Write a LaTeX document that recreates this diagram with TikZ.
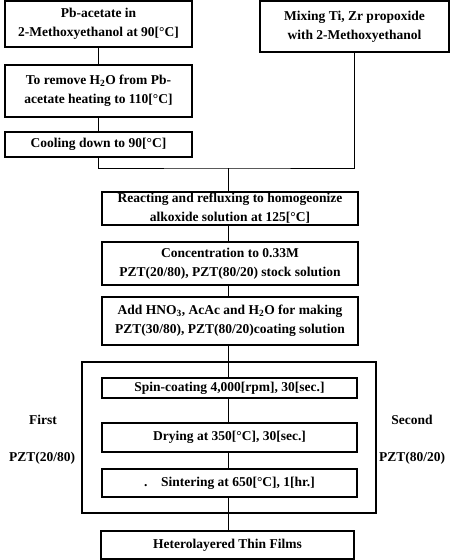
\documentclass[tikz,border=0pt]{standalone}
\usepackage{fontspec}
\setmainfont{Liberation Serif}
\begin{document}
\begin{tikzpicture}[x=1pt,y=-1pt,
  box/.style={draw,line width=1.3pt,rectangle,inner sep=0pt,align=center,
    font=\fontsize{13.5}{19}\selectfont\bfseries},
  lbl/.style={inner sep=0pt,font=\fontsize{13.5}{14}\selectfont\bfseries},
  conn/.style={line width=1pt}]
\useasboundingbox (0,0) rectangle (452,560);
\node[box,minimum width=187pt,minimum height=46pt] (A) at (98.5,24) {Pb-acetate in\\2-Methoxyethanol at 90[°C]};
\node[box,minimum width=189pt,minimum height=51pt] (M) at (354.5,26.5) {Mixing Ti, Zr propoxide\\with 2-Methoxyethanol};
\node[box,minimum width=187pt,minimum height=52pt] (B) at (98.5,91) {To remove H\textsubscript{2}O from Pb-\\acetate heating to 110[°C]};
\node[box,minimum width=187pt,minimum height=25pt] (C) at (98.5,144.5) {Cooling down to 90[°C]};
\node[box,minimum width=256pt,minimum height=33pt] (D) at (230,208.5) {Reacting and refluxing to homogeonize\\alkoxide solution at 125[°C]};
\node[box,minimum width=256pt,minimum height=43pt] (E) at (230,263.5) {Concentration to 0.33M\\PZT(20/80), PZT(80/20) stock solution};
\node[box,minimum width=256pt,minimum height=48pt] (F) at (230,321) {Add HNO\textsubscript{3}, AcAc and H\textsubscript{2}O for making\\PZT(30/80), PZT(80/20)coating solution};
\node[draw,line width=1.1pt,minimum width=294pt,minimum height=151pt,inner sep=0pt] (O) at (229,437.5) {};
\node[box,minimum width=255pt,minimum height=20pt] (S) at (229.5,388) {Spin-coating 4,000[rpm], 30[sec.]};
\node[box,minimum width=255pt,minimum height=29pt] (Dr) at (229.5,437.5) {Drying at 350[°C], 30[sec.]};
\node[box,minimum width=255pt,minimum height=28pt] (Si) at (229.5,483) {.\quad Sintering at 650[°C], 1[hr.]};
\node[box,minimum width=253pt,minimum height=28pt] (H) at (227.5,545) {Heterolayered Thin Films};
\node[lbl] (L1) at (43,420) {First};
\node[lbl] (L2) at (42,458) {PZT(20/80)};
\node[lbl] (R1) at (412,420) {Second};
\node[lbl] (R2) at (412,458) {PZT(80/20)};
\coordinate (J) at (228,168);
\draw[conn] (A.south) -- (B.north);
\draw[conn] (B.south) -- (C.north);
\draw[conn] (C.south) |- (J) -| (M.south);
\draw[conn] (J) -- (J |- D.north);
\draw[conn] (D.south -| J) -- (J |- E.north);
\draw[conn] (E.south -| J) -- (J |- F.north);
\draw[conn] (F.south -| J) -- (J |- S.north);
\draw[conn] (S.south -| J) -- (J |- Dr.north);
\draw[conn] (Dr.south -| J) -- (J |- Si.north);
\draw[conn] (Si.south -| J) -- (J |- H.north);
\end{tikzpicture}
\end{document}
